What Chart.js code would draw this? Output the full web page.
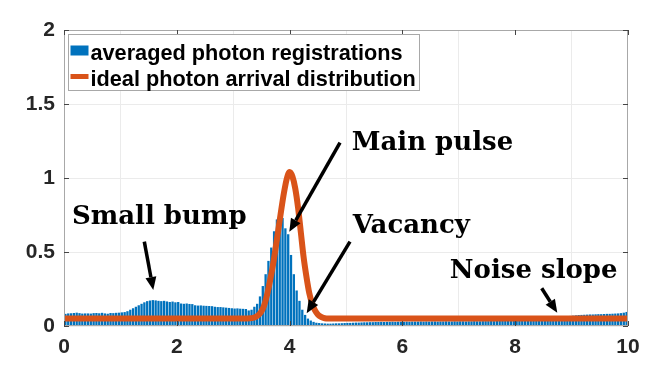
<!DOCTYPE html>
<html>
<head>
<meta charset="utf-8">
<script src="https://cdn.jsdelivr.net/npm/chart.js@4"></script>
<style>
    body{ margin:0; background:#fff; }
    .chart-wrap{ width:654px; height:373px; position:relative; }
</style>
</head>
<body>
<div class="chart-wrap"><canvas id="chart1"></canvas></div>
<script>
// histogram bins : 0 ~ 10, width 0.05
const binStart = 0;
const binWidth = 0.05;
const photonCounts = [
    0.082,0.085,0.086,0.088,0.09,0.087,0.084,0.085,0.085,0.084,0.087,0.088,0.086,0.089,0.085,0.083,0.088,0.087,0.089,0.09,
    0.092,0.094,0.1,0.11,0.12,0.13,0.14,0.15,0.16,0.168,
    0.172,0.175,0.173,0.17,0.168,0.17,0.166,0.162,0.165,0.16,
    0.162,0.152,0.15,0.152,0.149,0.148,0.14,0.138,0.139,0.137,
    0.136,0.135,0.134,0.13,0.128,0.128,0.126,0.124,0.122,0.12,
    0.118,0.119,0.117,0.116,0.115,0.105,0.11,0.13,0.15,0.2,
    0.27,0.35,0.44,0.53,0.64,0.72,0.75,0.73,0.66,0.62,
    0.48,0.35,0.24,0.17,0.11,0.075,0.05,0.037,0.028,0.022,
    0.02,0.018,0.017,0.016,0.016,0.017,0.018,0.018,0.019,0.02,
    0.021,0.021,0.022,0.023,0.023,0.024,0.025,0.025,0.026,0.026,
    0.027,0.027,0.028,0.027,0.028,0.028,0.029,0.028,0.029,0.029,
    0.029,0.03,0.029,0.03,0.03,0.03,0.031,0.03,0.031,0.03,
    0.031,0.031,0.03,0.031,0.031,0.032,0.031,0.031,0.032,0.031,
    0.032,0.032,0.031,0.032,0.032,0.033,0.032,0.032,0.033,0.033,
    0.033,0.034,0.033,0.034,0.034,0.035,0.034,0.035,0.035,0.036,
    0.036,0.037,0.038,0.039,0.04,0.041,0.043,0.044,0.046,0.048,
    0.05,0.052,0.054,0.056,0.058,0.06,0.062,0.064,0.066,0.068,
    0.07,0.072,0.074,0.075,0.076,0.077,0.078,0.078,0.079,0.08,
    0.08,0.081,0.082,0.082,0.083,0.084,0.085,0.087,0.09,0.095
];

// ideal arrival distribution
const idealX = [0,3.2,3.3,3.35,3.4,3.45,3.5,3.55,3.6,3.65,3.7,3.75,3.8,3.85,3.9,3.95,4.0,4.05,4.1,4.15,4.2,4.25,4.3,4.35,4.4,4.45,4.5,4.55,4.6,4.65,4.7,10];
const idealY = [0.05,0.05,0.052,0.055,0.062,0.075,0.098,0.14,0.21,0.3,0.4,0.52,0.65,0.78,0.9,0.995,1.04,1.01,0.93,0.8,0.63,0.46,0.33,0.22,0.15,0.105,0.078,0.063,0.055,0.051,0.05,0.05];

const seriesNames = ['averaged photon registrations', 'ideal photon arrival distribution'];
const xTicks = [0, 2, 4, 6, 8, 10];
const yTicks = [0, 0.5, 1, 1.5, 2];

// annotation text + arrows, in data coordinates
const notes = [
    { text: 'Small bump',  tx: 0.14, ty: 0.686, from: [1.424, 0.570], to: [1.583, 0.243] },
    { text: 'Main pulse',  tx: 5.10, ty: 1.189, from: [4.894, 1.239], to: [3.995, 0.637] },
    { text: 'Vacancy',     tx: 5.12, ty: 0.630, from: [5.071, 0.570], to: [4.303, 0.086] },
    { text: 'Noise slope', tx: 6.84, ty: 0.326, from: [8.470, 0.255], to: [8.746, 0.090] }
];

const blue = '#0072BD';
const orange = '#D95319';
const tickFont = { family: '"Liberation Sans", Arial, sans-serif', size: 21, weight: 'bold' };

// 축 테두리 + 안쪽 눈금
const framePlugin = {
    id: 'frame',
    afterDatasetsDraw(chart){
        const {ctx, chartArea: a, scales} = chart;
        ctx.save();
        ctx.strokeStyle = '#a8a8a8';
        ctx.lineWidth = 1;
        ctx.strokeRect(a.left + 0.5, a.top + 0.5, a.right - a.left - 1, a.bottom - a.top - 1);
        ctx.strokeStyle = '#444';
        ctx.beginPath();
        xTicks.forEach(v => {
            const px = Math.round(scales.x.getPixelForValue(v)) + 0.5;
            ctx.moveTo(px, a.bottom); ctx.lineTo(px, a.bottom - 5);
            ctx.moveTo(px, a.top); ctx.lineTo(px, a.top + 5);
        });
        yTicks.forEach(v => {
            const py = Math.round(scales.y.getPixelForValue(v)) + 0.5;
            ctx.moveTo(a.left, py); ctx.lineTo(a.left + 5, py);
            ctx.moveTo(a.right, py); ctx.lineTo(a.right - 5, py);
        });
        ctx.stroke();
        ctx.restore();
    }
};

// 화살표 주석
const notePlugin = {
    id: 'notes',
    afterDatasetsDraw(chart){
        const {ctx, scales} = chart;
        const X = v => scales.x.getPixelForValue(v);
        const Y = v => scales.y.getPixelForValue(v);
        ctx.save();
        ctx.fillStyle = '#000';
        ctx.strokeStyle = '#000';
        ctx.font = 'bold 26px "DejaVu Serif", serif';
        ctx.textBaseline = 'alphabetic';
        notes.forEach(n => {
            ctx.fillText(n.text, X(n.tx), Y(n.ty));
            const x1 = X(n.from[0]), y1 = Y(n.from[1]);
            const x2 = X(n.to[0]), y2 = Y(n.to[1]);
            const ang = Math.atan2(y2 - y1, x2 - x1);
            const headLen = 13, headW = 5.5;
            const bx = x2 - headLen * Math.cos(ang), by = y2 - headLen * Math.sin(ang);
            ctx.lineWidth = 3.5;
            ctx.beginPath();
            ctx.moveTo(x1, y1); ctx.lineTo(bx, by);
            ctx.stroke();
            ctx.beginPath();
            ctx.moveTo(x2, y2);
            ctx.lineTo(bx + headW * Math.sin(ang), by - headW * Math.cos(ang));
            ctx.lineTo(bx - headW * Math.sin(ang), by + headW * Math.cos(ang));
            ctx.closePath();
            ctx.fill();
        });
        ctx.restore();
    }
};

// 범례 (플롯 안쪽 좌상단)
const legendPlugin = {
    id: 'boxLegend',
    afterDraw(chart){
        const {ctx, chartArea: a} = chart;
        const x0 = a.left + 4.5, y0 = a.top + 4.5, w = 351, h = 56;
        ctx.save();
        ctx.fillStyle = '#fff';
        ctx.fillRect(x0, y0, w, h);
        ctx.strokeStyle = '#a8a8a8';
        ctx.lineWidth = 1;
        ctx.strokeRect(x0, y0, w, h);
        ctx.fillStyle = blue;
        ctx.fillRect(x0 + 2, y0 + 11, 18, 10);
        ctx.strokeStyle = orange;
        ctx.lineWidth = 5;
        ctx.beginPath();
        ctx.moveTo(x0 + 2, y0 + 42); ctx.lineTo(x0 + 20, y0 + 42);
        ctx.stroke();
        ctx.fillStyle = '#000';
        ctx.font = 'bold 21.7px "Liberation Sans", Arial, sans-serif';
        ctx.fillText(seriesNames[0], x0 + 22, y0 + 25);
        ctx.fillText(seriesNames[1], x0 + 22, y0 + 51);
        ctx.restore();
    }
};

const barData = photonCounts.map((v, i) => ({ x: binStart + binWidth * (i + 0.5), y: v }));
const lineData = idealX.map((x, i) => ({ x: x, y: idealY[i] }));

new Chart(document.getElementById('chart1').getContext('2d'), {
    type: 'bar',
    data: {
        datasets: [
            {
                type: 'line',
                label: seriesNames[1],
                data: lineData,
                borderColor: orange,
                borderWidth: 6,
                pointRadius: 0,
                cubicInterpolationMode: 'monotone',
                order: 0
            },
            {
                type: 'bar',
                label: seriesNames[0],
                data: barData,
                backgroundColor: blue,
                barPercentage: 0.82,
                categoryPercentage: 1,
                order: 1
            }
        ]
    },
    options: {
        responsive: true,
        maintainAspectRatio: false,
        animation: false,
        layout: { padding: { top: 30, right: 26, left: 0, bottom: 0 } },
        plugins: {
            legend: { display: false },
            tooltip: { enabled: false }
        },
        scales: {
            x: {
                type: 'linear',
                min: 0, max: 10,
                offset: false,
                afterFit(scale){ scale.height = 47; },
                afterBuildTicks(scale){ scale.ticks = xTicks.map(v => ({ value: v })); },
                ticks: { font: tickFont, color: '#262626', padding: 9, maxRotation: 0, callback: v => String(v) },
                grid: { color: '#ebebeb', drawTicks: false },
                border: { display: false }
            },
            y: {
                min: 0, max: 2,
                afterFit(scale){ scale.width = 64; },
                afterBuildTicks(scale){ scale.ticks = yTicks.map(v => ({ value: v })); },
                ticks: { font: tickFont, color: '#262626', padding: 9, callback: v => String(v) },
                grid: { color: '#ebebeb', drawTicks: false },
                border: { display: false }
            }
        }
    },
    plugins: [framePlugin, notePlugin, legendPlugin]
});
</script>
</body>
</html>
